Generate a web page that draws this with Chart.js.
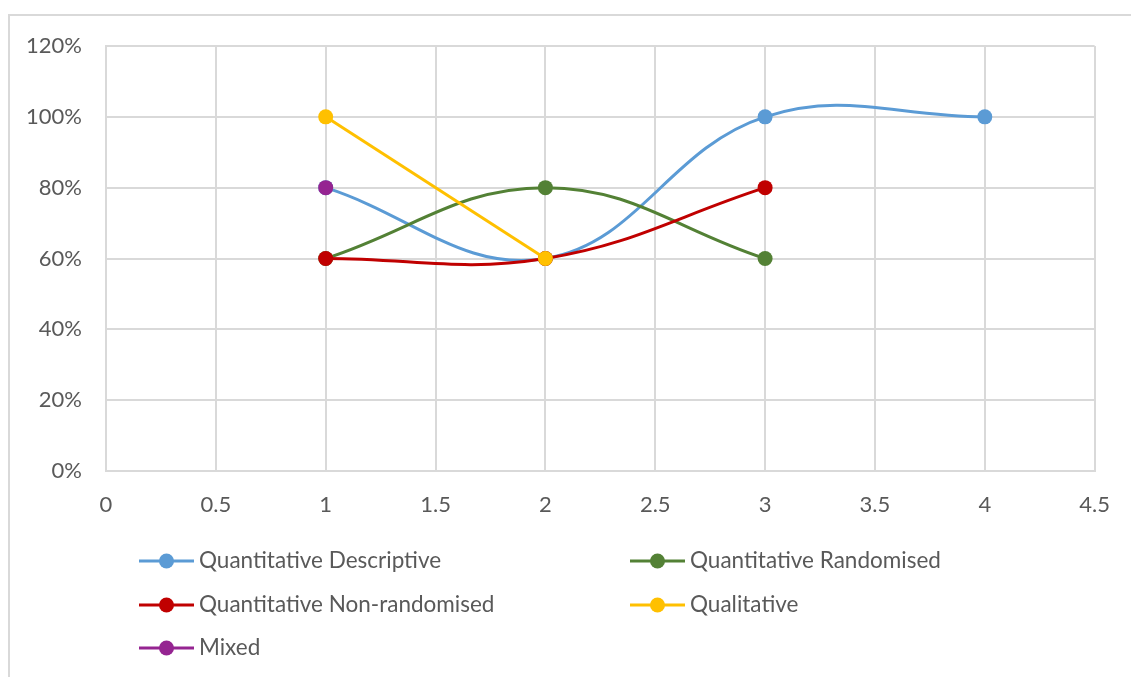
<!DOCTYPE html>
<html>
<head>
<meta charset="utf-8">
<script src="https://cdn.jsdelivr.net/npm/chart.js@4/dist/chart.umd.min.js"></script>
<style>
  html, body { margin: 0; padding: 0; background: #ffffff; overflow: hidden; }
  #wrap { position: relative; width: 1131px; height: 677px; }
  #frame { position: absolute; left: 8px; top: 14px; width: 1200px; height: 700px;
           border: 2px solid #d9d9d9; box-sizing: border-box; }
  canvas { position: absolute; left: 0; top: 0; }
</style>
</head>
<body>
<div id="wrap">
  <div id="frame"></div>
  <canvas id="chart" width="1131" height="677"></canvas>
</div>
<script>
// Series values (percent) at x = 1, 2, 3, 4
const xValues = [1, 2, 3, 4];
const seriesNames = [
  'Quantitative Descriptive',
  'Quantitative Randomised',
  'Quantitative Non-randomised',
  'Qualitative',
  'Mixed'
];
const descriptive = [80, 60, 100, 100];
const randomised = [60, 80, 60];
const nonRandomised = [60, 60, 80];
const qualitative = [100, 60];
const mixed = [80];
const seriesColors = ['#5b9bd5', '#538135', '#c00000', '#ffc000', '#952491'];
const seriesTension = [0.4, 0.4, 0.4, 0, 0];

const seriesValues = [descriptive, randomised, nonRandomised, qualitative, mixed];
const textColor = '#595959';
const fontFamily = 'Lato, "Open Sans", sans-serif';

const datasets = seriesValues.map((vals, i) => ({
  label: seriesNames[i],
  data: vals.map((v, j) => ({ x: xValues[j], y: v })),
  showLine: true,
  borderColor: seriesColors[i],
  backgroundColor: seriesColors[i],
  borderWidth: 3,
  pointRadius: 7.5,
  pointHoverRadius: 7.5,
  pointBorderWidth: 0,
  tension: seriesTension[i],
  order: seriesValues.length - i
}));

// Legend laid out in two columns under the plot
const legendSlots = [
  { x: 139, y: 561 }, { x: 630, y: 561 },
  { x: 139, y: 605 }, { x: 630, y: 605 },
  { x: 139, y: 648 }
];
const legendPlugin = {
  id: 'gridLegend',
  afterDraw(chart) {
    const ctx = chart.ctx;
    ctx.save();
    chart.data.datasets.forEach((ds, i) => {
      const s = legendSlots[i];
      ctx.strokeStyle = ds.borderColor;
      ctx.lineWidth = 3;
      ctx.beginPath();
      ctx.moveTo(s.x, s.y);
      ctx.lineTo(s.x + 55, s.y);
      ctx.stroke();
      ctx.fillStyle = ds.backgroundColor;
      ctx.beginPath();
      ctx.arc(s.x + 27.5, s.y, 7.5, 0, Math.PI * 2);
      ctx.fill();
      ctx.fillStyle = textColor;
      ctx.font = '22.5px ' + fontFamily;
      ctx.textBaseline = 'middle';
      ctx.textAlign = 'left';
      ctx.fillText(ds.label, s.x + 60, s.y);
    });
    ctx.restore();
  }
};

new Chart(document.getElementById('chart'), {
  type: 'scatter',
  data: { datasets },
  options: {
    responsive: false,
    animation: false,
    layout: { padding: { left: 0, top: 46, right: 33, bottom: 156 } },
    plugins: { legend: { display: false }, tooltip: { enabled: false } },
    scales: {
      x: {
        type: 'linear',
        min: 0, max: 4.5,
        ticks: { stepSize: 0.5, color: textColor, padding: 21,
                 font: { family: fontFamily, size: 22 },
                 callback: v => String(Math.round(v * 10) / 10) },
        grid: { color: '#d9d9d9', lineWidth: 2, drawTicks: false },
        border: { color: '#d9d9d9', width: 2 },
        afterFit(scale) { scale.height = 50; }
      },
      y: {
        min: 0, max: 120,
        ticks: { stepSize: 20, color: textColor, padding: 24,
                 font: { family: fontFamily, size: 22 },
                 callback: v => v + '%' },
        grid: { color: '#d9d9d9', lineWidth: 2, drawTicks: false },
        border: { color: '#d9d9d9', width: 2 },
        afterFit(scale) { scale.width = 106; }
      }
    }
  },
  plugins: [legendPlugin]
});
</script>
</body>
</html>
